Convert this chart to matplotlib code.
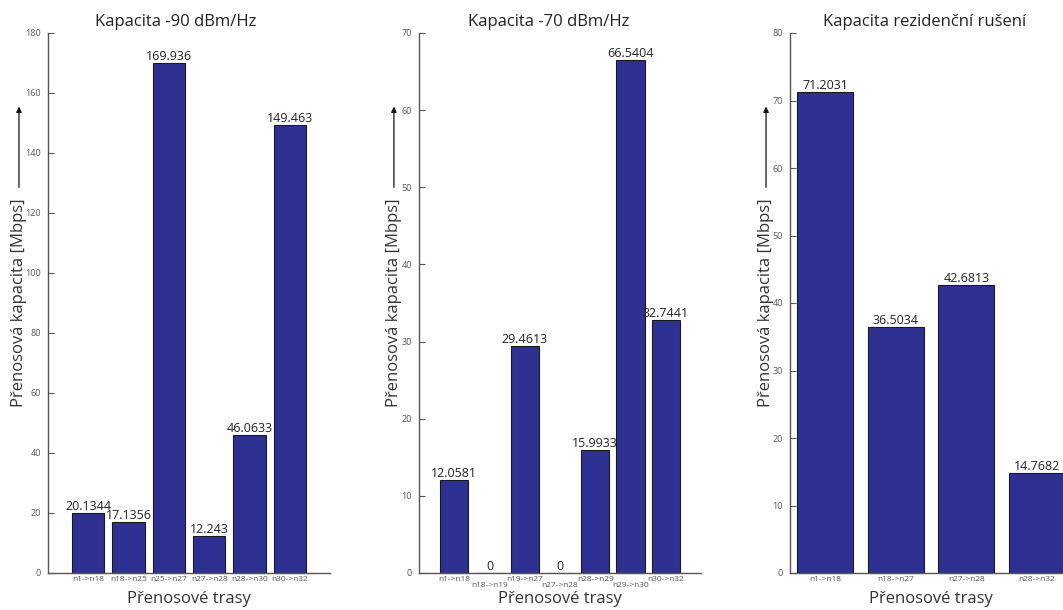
import matplotlib.pyplot as plt

plt.rcParams['font.family'] = ['Open Sans', 'DejaVu Sans']

# Data
routes_90 = ['n1->n18', 'n18->n25', 'n25->n27', 'n27->n28', 'n28->n30', 'n30->n32']
cap_90 = [20.1344, 17.1356, 169.936, 12.243, 46.0633, 149.463]

routes_70 = ['n1->n18', 'n18->n19', 'n19->n27', 'n27->n28', 'n28->n29', 'n29->n30', 'n30->n32']
cap_70 = [12.0581, 0, 29.4613, 0, 15.9933, 66.5404, 32.7441]

routes_res = ['n1->n18', 'n18->n27', 'n27->n28', 'n28->n32']
cap_res = [71.2031, 36.5034, 42.6813, 14.7682]

titles = ['Kapacita -90 dBm/Hz', 'Kapacita -70 dBm/Hz', 'Kapacita rezidenční rušení']

bar_color = '#2E3192'
axis_color = '#555555'

fig = plt.figure(figsize=(10.63, 6.10), dpi=100)

# axes placement (figure fractions)
lefts = [48 / 1063, 419 / 1063, 790 / 1063]
width = 282 / 1063
bottom = 1 - 573 / 610
height = 540 / 610

panels = [
    (routes_90, cap_90, (0, 7), (0, 180), 20, 0.454, -0.103),
    (routes_70, cap_70, (0, 8), (0, 70), 10, 0.459, -0.089),
    (routes_res, cap_res, (0.5, 4.5), (0, 80), 10, 0.479, -0.085),
]

for i, (routes, vals, xl, yl, ystep, tx, lx) in enumerate(panels):
    ax = fig.add_axes([lefts[i], bottom, width, height])
    x = list(range(1, len(vals) + 1))
    ax.bar(x, vals, width=0.8, color=bar_color, edgecolor='#1a1a1a', linewidth=0.8)
    for xi, v in zip(x, vals):
        ax.text(xi, v, '{:g}'.format(v), ha='center', va='bottom', fontsize=9, color='#222222')

    ax.set_xlim(*xl)
    ax.set_ylim(*yl)
    ax.set_yticks(range(yl[0], yl[1] + 1, ystep))
    ax.set_xticks(x)
    if len(routes) == 7:
        labels = [r if j % 2 == 0 else '\n' + r for j, r in enumerate(routes)]
    else:
        labels = routes
    ax.set_xticklabels(labels, linespacing=0.85)

    ax.tick_params(axis='x', length=0, labelsize=6, labelcolor='#555555', pad=2)
    ax.tick_params(axis='y', direction='in', length=4, width=0.8, color=axis_color,
                   labelsize=6.5, labelcolor='#555555', pad=5)

    for s in ['top', 'right']:
        ax.spines[s].set_visible(False)
    for s in ['left', 'bottom']:
        ax.spines[s].set_color(axis_color)
        ax.spines[s].set_linewidth(1.0)

    ax.set_title(titles[i], fontsize=12, x=tx, pad=5, color='#222222')
    ax.set_xlabel('Přenosové trasy', fontsize=12, color='#333333', va='center')
    ax.xaxis.set_label_coords(0.5, -0.048)
    ax.set_ylabel('Přenosová kapacita [Mbps]', fontsize=12, color='#333333', va='center')
    ax.yaxis.set_label_coords(lx, 0.5)

    # arrow above the y label
    ax.annotate('', xy=(lx, 0.869), xytext=(lx, 0.709), xycoords='axes fraction',
                arrowprops=dict(arrowstyle='-|>', color='#111111', lw=0.9,
                                mutation_scale=8),
                annotation_clip=False)

fig.savefig('out.png', dpi=100)
